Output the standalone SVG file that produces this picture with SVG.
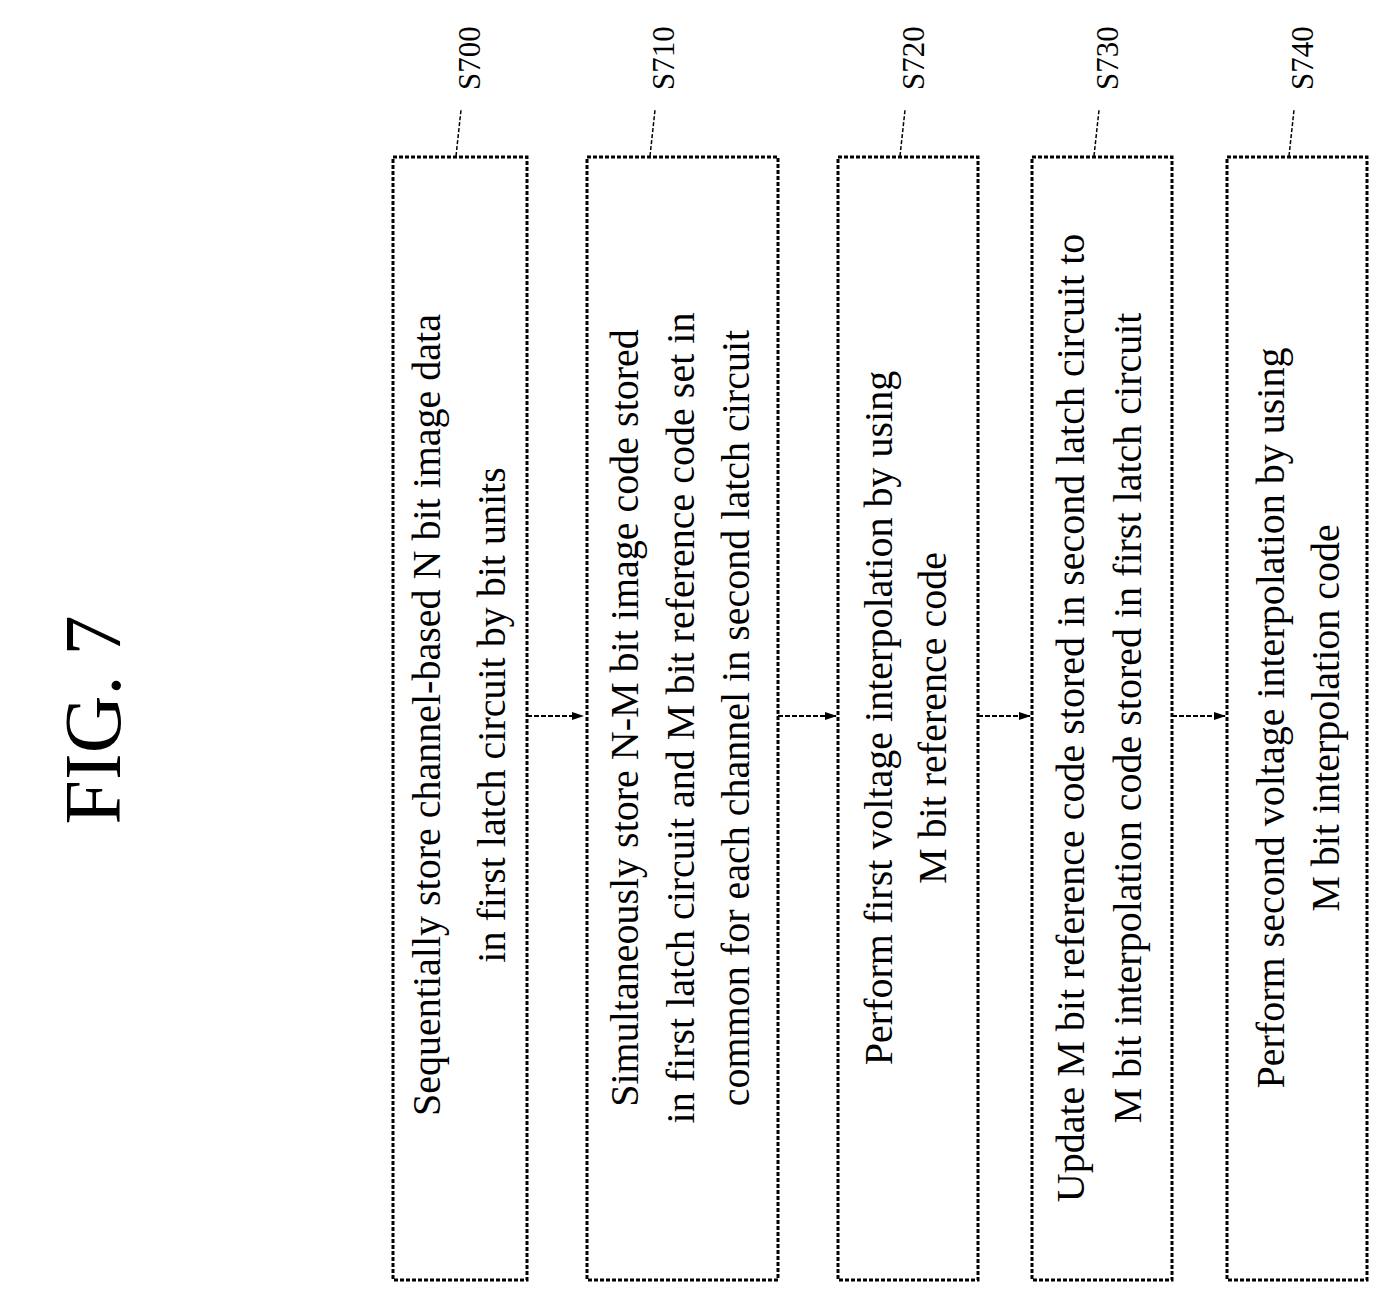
<svg xmlns="http://www.w3.org/2000/svg" width="1390" height="1305" viewBox="0 0 1390 1305">
<defs>
<style>
.b{fill:#fff;stroke:#000;stroke-width:3;stroke-dasharray:4 2}
.t{font-family:"Liberation Serif",serif;font-size:40px;text-anchor:middle}
.l{font-family:"Liberation Serif",serif;font-size:31px;text-anchor:middle}
.ld{fill:none;stroke:#000;stroke-width:1.5;stroke-dasharray:4 2}
.c{stroke:#000;stroke-width:2;stroke-dasharray:5 2;marker-end:url(#a)}
</style>
<marker id="a" markerWidth="12" markerHeight="8" refX="11" refY="4" orient="auto" markerUnits="userSpaceOnUse"><path d="M0,0 L12,4 L0,8 Z"/></marker>
</defs>
<rect width="1390" height="1305" fill="#fff"/>
<text font-family="Liberation Serif,serif" font-size="80" text-anchor="middle" transform="translate(120,720) rotate(-90)">FIG. 7</text>
<g id="connectors">
<line class="c" x1="527" y1="716" x2="583" y2="716"/>
<line class="c" x1="778" y1="716" x2="836" y2="716"/>
<line class="c" x1="978" y1="716" x2="1030" y2="716"/>
<line class="c" x1="1172" y1="716" x2="1225" y2="716"/>
</g>
<g id="s700">
<rect class="b" x="393" y="157" width="134" height="1123"/>
<path class="ld" d="M456,156 L461,110"/>
<text class="l" transform="translate(480,58) rotate(-90)">S700</text>
<text class="t" transform="translate(440,715) rotate(-90)">Sequentially store channel-based N bit image data</text>
<text class="t" transform="translate(505,715) rotate(-90)">in first latch circuit by bit units</text>
</g>
<g id="s710">
<rect class="b" x="587" y="157" width="191" height="1123"/>
<path class="ld" d="M650,156 L655,110"/>
<text class="l" transform="translate(674,58) rotate(-90)">S710</text>
<text class="t" transform="translate(638,718) rotate(-90)">Simultaneously store N-M bit image code stored</text>
<text class="t" transform="translate(694,718) rotate(-90)">in first latch circuit and M bit reference code set in</text>
<text class="t" transform="translate(749,718) rotate(-90)">common for each channel in second latch circuit</text>
</g>
<g id="s720">
<rect class="b" x="838" y="157" width="140" height="1123"/>
<path class="ld" d="M900,156 L905,110"/>
<text class="l" transform="translate(924,58) rotate(-90)">S720</text>
<text class="t" transform="translate(892,718) rotate(-90)">Perform first voltage interpolation by using</text>
<text class="t" transform="translate(946,718) rotate(-90)">M bit reference code</text>
</g>
<g id="s730">
<rect class="b" x="1032" y="157" width="140" height="1123"/>
<path class="ld" d="M1094,156 L1099,110"/>
<text class="l" transform="translate(1118,58) rotate(-90)">S730</text>
<text class="t" transform="translate(1084,718) rotate(-90)">Update M bit reference code stored in second latch circuit to</text>
<text class="t" transform="translate(1141,718) rotate(-90)">M bit interpolation code stored in first latch circuit</text>
</g>
<g id="s740">
<rect class="b" x="1227" y="157" width="140" height="1123"/>
<path class="ld" d="M1289,156 L1294,110"/>
<text class="l" transform="translate(1313,58) rotate(-90)">S740</text>
<text class="t" transform="translate(1284,718) rotate(-90)">Perform second voltage interpolation by using</text>
<text class="t" transform="translate(1339,718) rotate(-90)">M bit interpolation code</text>
</g>
</svg>
